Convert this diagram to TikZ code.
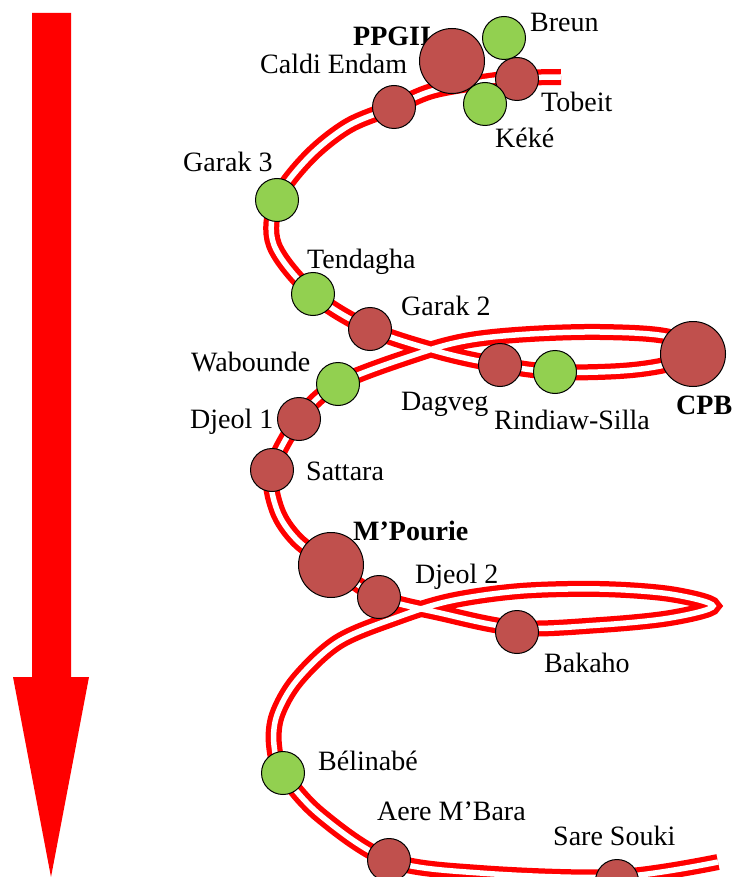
\documentclass[tikz,border=0pt]{standalone}
\usepackage{fontspec}
\setmainfont{Liberation Serif}
\definecolor{stbrown}{HTML}{C0504D}
\definecolor{stgreen}{HTML}{92D050}
\begin{document}
\begin{tikzpicture}[x=1pt,y=-1pt,
  track/.style={draw=red, line width=5.25pt, double=white, double distance=5.5pt},
  station/.style={circle, draw=black, line width=1pt, minimum size=43pt, inner sep=0pt},
  bigstation/.style={station, minimum size=65pt},
  brown/.style={fill=stbrown},
  green/.style={fill=stgreen},
  lbl/.style={anchor=base west, inner sep=0pt, font=\fontsize{28}{34}\selectfont},
  blbl/.style={lbl, font=\fontsize{28}{34}\selectfont\bfseries}]
\useasboundingbox (0,0) rectangle (732,877);
% direction arrow
\fill[red] (32,13) -- (71,13) -- (71,677) -- (89,677) -- (51,877) -- (13,677) -- (32,677) -- cycle;
% track waypoints
\coordinate (s0) at (561,77);
\coordinate (tob) at (517,78);
\coordinate (caldi) at (394,107);
\coordinate (g3) at (277,200);
\coordinate (tend) at (313,294);
\coordinate (g2) at (370,329);
\coordinate (dag) at (500,365);
\coordinate (rin) at (555,372);
\coordinate (wab) at (338,384);
\coordinate (dj1) at (299,419);
\coordinate (sat) at (272,470);
\coordinate (mp) at (331,565);
\coordinate (dj2) at (379,597);
\coordinate (bak) at (517,628);
\coordinate (bel) at (283,773);
\coordinate (aere) at (389,860);
\coordinate (sare) at (617,877);
\coordinate (s1) at (718,862);
\draw[track] plot[smooth, tension=0.55] coordinates {
  (s0) (tob) (482,82) (432,91) (caldi) (348,126) (308,158) (g3) (274,245) (tend) (g2) (440,352)
  (dag) (rin) (620,371) (665,365) (706,352) (665,336) (600,332) (530,334) (470,340) (420,353)
  (wab) (dj1) (sat) (277,510) (297,540) (mp) (dj2) (440,613) (bak) (600,625) (670,618) (713,606)
  (670,594) (600,589) (520,591) (450,601) (395,618) (338,642) (297,680) (277,715) (274,745)
  (bel) (320,815) (aere) (480,873) (sare) (s1)};
% labels
\node[blbl] (tppgii) at (353,46) {PPGII};
\node[lbl] (tcaldi) at (260,74) {Caldi Endam};
\node[lbl] (tbreun) at (530,32) {Breun};
\node[lbl] (ttobeit) at (541,112) {Tobeit};
\node[lbl] (tkeke) at (495,148) {Kéké};
\node[lbl] (tg3) at (183,172) {Garak 3};
\node[lbl] (ttend) at (307,268) {Tendagha};
\node[lbl] (tg2) at (401,315) {Garak 2};
\node[lbl] (twab) at (191,371) {Wabounde};
\node[lbl] (tdj1) at (190,428) {Djeol 1};
\node[lbl] (tdag) at (401,410) {Dagveg};
\node[lbl] (trin) at (494,429) {Rindiaw-Silla};
\node[blbl] (tcpb) at (676,414) {CPB};
\node[lbl] (tsat) at (306,480) {Sattara};
\node[blbl] (tmp) at (353,540) {M’Pourie};
\node[lbl] (tdj2) at (415,583) {Djeol 2};
\node[lbl] (tbak) at (544,672) {Bakaho};
\node[lbl] (tbel) at (318,770) {Bélinabé};
\node[lbl] (taere) at (377,820) {Aere M’Bara};
\node[lbl] (tsare) at (553,845) {Sare Souki};
% stations
\node[bigstation, brown] (ppgii) at (452,61) {};
\node[station, brown] (tobeit) at (517,79) {};
\node[station, green] (breun) at (504,38) {};
\node[station, green] (keke) at (485,104) {};
\node[station, brown] (ncaldi) at (394,107) {};
\node[station, green] (garak3) at (277,200) {};
\node[station, green] (tendagha) at (313,294) {};
\node[station, brown] (garak2) at (370,329) {};
\node[station, brown] (dagveg) at (500,365) {};
\node[station, green] (rindiaw) at (555,372) {};
\node[bigstation, brown] (cpb) at (693,354) {};
\node[station, green] (wabounde) at (338,384) {};
\node[station, brown] (djeol1) at (299,419) {};
\node[station, brown] (sattara) at (272,470) {};
\node[bigstation, brown] (mpourie) at (331,565) {};
\node[station, brown] (djeol2) at (379,597) {};
\node[station, brown] (bakaho) at (517,632) {};
\node[station, green] (belinabe) at (283,773) {};
\node[station, brown] (aerembara) at (389,860) {};
\node[station, brown] (saresouki) at (617,881) {};
\end{tikzpicture}
\end{document}
